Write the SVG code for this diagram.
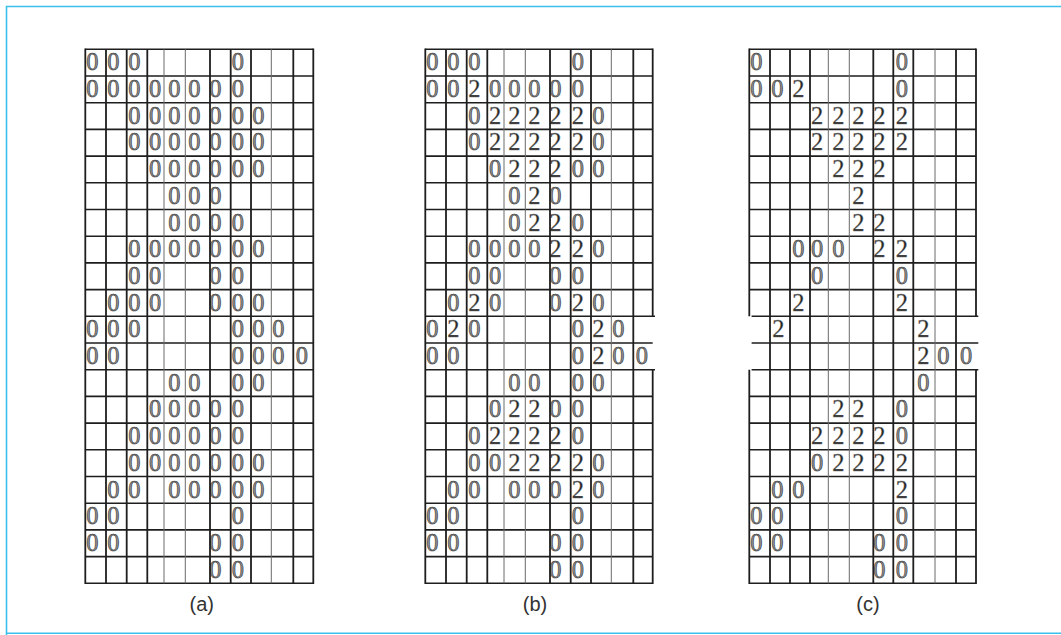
<svg xmlns="http://www.w3.org/2000/svg" width="1061" height="635" viewBox="0 0 1061 635">
<style>
.z{font-family:"Liberation Serif",serif;font-size:24.5px;fill:#909090;stroke:#262626;stroke-width:0.55}
.w{font-family:"Liberation Serif",serif;font-size:24.5px;fill:#262626;stroke:#808080;stroke-width:0.35}
.h{fill:none;stroke:#1e1e1e;stroke-width:1.6}
.k{fill:none;stroke:#1e1e1e;stroke-width:1.8}
.t{fill:none;stroke:#6a6a6a;stroke-width:1}
.lbl{font-family:"Liberation Sans",Arial,sans-serif;font-size:20px;fill:#333;text-anchor:middle}
</style>
<rect x="0" y="0" width="1061" height="635" fill="#fff"/>
<path d="M6.5 640 V6.5 H1070 M6.5 633.3 H1070" fill="none" stroke="#3cbfea" stroke-width="1.6"/>

<g id="grid-a">
<g class="digits">
<text class="z" x="86.3 107.3 128.3 231.7" y="70.3">0000</text>
<text class="z" x="86.3 107.3 128.3 149 168.3 188.3 209.3 231.7" y="97">00000000</text>
<text class="z" x="128.3 149 168.3 188.3 209.3 231.7 252.3" y="123.7">0000000</text>
<text class="z" x="128.3 149 168.3 188.3 209.3 231.7 252.3" y="150.4">0000000</text>
<text class="z" x="149 168.3 188.3 209.3 231.7 252.3" y="177.1">000000</text>
<text class="z" x="168.3 188.3 209.3" y="203.8">000</text>
<text class="z" x="168.3 188.3 209.3 231.7" y="230.5">0000</text>
<text class="z" x="128.3 149 168.3 188.3 209.3 231.7 252.3" y="257.2">0000000</text>
<text class="z" x="128.3 149 209.3 231.7" y="283.9">0000</text>
<text class="z" x="107.3 128.3 149 209.3 231.7 252.3" y="310.6">000000</text>
<text class="z" x="86.3 107.3 128.3 231.7 252.3 272.3" y="337.3">000000</text>
<text class="z" x="86.3 107.3 231.7 252.3 272.3 295.7" y="364">000000</text>
<text class="z" x="168.3 188.3 231.7 252.3" y="390.7">0000</text>
<text class="z" x="149 168.3 188.3 209.3 231.7" y="417.4">00000</text>
<text class="z" x="128.3 149 168.3 188.3 209.3 231.7" y="444.1">000000</text>
<text class="z" x="128.3 149 168.3 188.3 209.3 231.7 252.3" y="470.8">0000000</text>
<text class="z" x="107.3 128.3 168.3 188.3 209.3 231.7 252.3" y="497.5">0000000</text>
<text class="z" x="86.3 107.3 231.7" y="524.2">000</text>
<text class="z" x="86.3 107.3 209.3 231.7" y="550.9">0000</text>
<text class="z" x="209.3 231.7" y="577.6">00</text>
</g>
<path class="h" d="M85.3 49.3H313.3M85.3 76H313.3M85.3 102.7H313.3M85.3 129.4H313.3M85.3 156.1H313.3M85.3 182.8H313.3M85.3 209.5H313.3M85.3 236.2H313.3M85.3 262.9H313.3M85.3 289.6H313.3M85.3 316.3H313.3M85.3 343H313.3M85.3 369.7H313.3M85.3 396.4H313.3M85.3 423.1H313.3M85.3 449.8H313.3M85.3 476.5H313.3M85.3 503.2H313.3M85.3 529.9H313.3M85.3 556.6H313.3M85.3 583.3H313.3"/>
<path class="k" d="M85.3 48.5V584.1M106 49.3V583.3M126.7 49.3V583.3M147.3 49.3V583.3M210 49.3V583.3M230.7 49.3V583.3M251 49.3V583.3M293.3 49.3V583.3M313.3 48.5V584.1"/>
<path class="t" d="M164 49.3V583.3M185.3 49.3V583.3M271.3 49.3V583.3"/>
<text class="lbl" x="201.7" y="611">(a)</text>
</g>

<g id="grid-b">
<g class="digits">
<text class="z" x="426.3 447.3 468.3 571.7" y="70.3">0000</text>
<text class="z" x="426.3 447.3 489 508.3 528.3 549.3 571.7" y="97">0000000</text>
<text class="w" x="468.3" y="97">2</text>
<text class="z" x="468.3 592.3" y="123.7">00</text>
<text class="w" x="489 508.3 528.3 549.3 571.7" y="123.7">22222</text>
<text class="z" x="468.3 592.3" y="150.4">00</text>
<text class="w" x="489 508.3 528.3 549.3 571.7" y="150.4">22222</text>
<text class="z" x="489 571.7 592.3" y="177.1">000</text>
<text class="w" x="508.3 528.3 549.3" y="177.1">222</text>
<text class="z" x="508.3 549.3" y="203.8">00</text>
<text class="w" x="528.3" y="203.8">2</text>
<text class="z" x="508.3 571.7" y="230.5">00</text>
<text class="w" x="528.3 549.3" y="230.5">22</text>
<text class="z" x="468.3 489 508.3 528.3 592.3" y="257.2">00000</text>
<text class="w" x="549.3 571.7" y="257.2">22</text>
<text class="z" x="468.3 489 549.3 571.7" y="283.9">0000</text>
<text class="z" x="447.3 489 549.3 592.3" y="310.6">0000</text>
<text class="w" x="468.3 571.7" y="310.6">22</text>
<text class="z" x="426.3 468.3 571.7 612.3" y="337.3">0000</text>
<text class="w" x="447.3 592.3" y="337.3">22</text>
<text class="z" x="426.3 447.3 571.7 612.3 635.7" y="364">00000</text>
<text class="w" x="592.3" y="364">2</text>
<text class="z" x="508.3 528.3 571.7 592.3" y="390.7">0000</text>
<text class="z" x="489 549.3 571.7" y="417.4">000</text>
<text class="w" x="508.3 528.3" y="417.4">22</text>
<text class="z" x="468.3 571.7" y="444.1">00</text>
<text class="w" x="489 508.3 528.3 549.3" y="444.1">2222</text>
<text class="z" x="468.3 489 592.3" y="470.8">000</text>
<text class="w" x="508.3 528.3 549.3 571.7" y="470.8">2222</text>
<text class="z" x="447.3 468.3 508.3 528.3 549.3 592.3" y="497.5">000000</text>
<text class="w" x="571.7" y="497.5">2</text>
<text class="z" x="426.3 447.3 571.7" y="524.2">000</text>
<text class="z" x="426.3 447.3 549.3 571.7" y="550.9">0000</text>
<text class="z" x="549.3 571.7" y="577.6">00</text>
</g>
<path class="h" d="M425.3 49.3H652.7M425.3 76H652.7M425.3 102.7H652.7M425.3 129.4H652.7M425.3 156.1H652.7M425.3 182.8H652.7M425.3 209.5H652.7M425.3 236.2H652.7M425.3 262.9H652.7M425.3 289.6H652.7M425.3 316.3H655M425.3 343H652.7M425.3 369.7H655M425.3 396.4H652.7M425.3 423.1H652.7M425.3 449.8H652.7M425.3 476.5H652.7M425.3 503.2H652.7M425.3 529.9H652.7M425.3 556.6H652.7M425.3 583.3H652.7"/>
<path class="k" d="M425.3 48.5V584.1M446 49.3V583.3M466.7 49.3V583.3M487.3 49.3V583.3M550 49.3V583.3M570.7 49.3V583.3M591 49.3V583.3M633.3 49.3V583.3M652.7 48.5V316.3M652.7 369.7V584.1"/>
<path class="t" d="M504 49.3V583.3M525.3 49.3V583.3M611.3 49.3V583.3"/>
<text class="lbl" x="535" y="611">(b)</text>
</g>

<g id="grid-c">
<g class="digits">
<text class="z" x="750.3 895.7" y="70.3">00</text>
<text class="z" x="750.3 771.3 895.7" y="97">000</text>
<text class="w" x="792.3" y="97">2</text>
<text class="w" x="811 832.3 852.3 873.3 895.7" y="123.7">22222</text>
<text class="w" x="811 832.3 852.3 873.3 895.7" y="150.4">22222</text>
<text class="w" x="832.3 852.3 873.3" y="177.1">222</text>
<text class="w" x="852.3" y="203.8">2</text>
<text class="w" x="852.3 873.3" y="230.5">22</text>
<text class="z" x="792.3 811 832.3" y="257.2">000</text>
<text class="w" x="873.3 895.7" y="257.2">22</text>
<text class="z" x="811 895.7" y="283.9">00</text>
<text class="w" x="792.3 895.7" y="310.6">22</text>
<text class="w" x="772.3 917.3" y="337.3">22</text>
<text class="w" x="917.3" y="364">2</text>
<text class="z" x="937.3 960" y="364">00</text>
<text class="z" x="917.3" y="390.7">0</text>
<text class="w" x="832.3 852.3" y="417.4">22</text>
<text class="z" x="895.7" y="417.4">0</text>
<text class="w" x="811 832.3 852.3 873.3" y="444.1">2222</text>
<text class="z" x="895.7" y="444.1">0</text>
<text class="z" x="811" y="470.8">0</text>
<text class="w" x="832.3 852.3 873.3 895.7" y="470.8">2222</text>
<text class="z" x="771.3 792.3" y="497.5">00</text>
<text class="w" x="895.7" y="497.5">2</text>
<text class="z" x="750.3 771.3 895.7" y="524.2">000</text>
<text class="z" x="750.3 771.3 873.3 895.7" y="550.9">0000</text>
<text class="z" x="873.3 895.7" y="577.6">00</text>
</g>
<path class="h" d="M749.3 49.3H976M749.3 76H976M749.3 102.7H976M749.3 129.4H976M749.3 156.1H976M749.3 182.8H976M749.3 209.5H976M749.3 236.2H976M749.3 262.9H976M749.3 289.6H976M751.6 316.3H978.3M751.6 343H978.3M751.6 369.7H978.3M749.3 396.4H976M749.3 423.1H976M749.3 449.8H976M749.3 476.5H976M749.3 503.2H976M749.3 529.9H976M749.3 556.6H976M749.3 583.3H976"/>
<path class="k" d="M749.3 48.5V316.3M749.3 369.7V584.1M770 49.3V583.3M790 49.3V583.3M810 49.3V583.3M873.3 49.3V583.3M893.3 49.3V583.3M913.3 49.3V583.3M956 49.3V583.3M976 48.5V316.3M976 369.7V584.1"/>
<path class="t" d="M828.3 49.3V583.3M849.3 49.3V583.3M935 49.3V583.3"/>
<text class="lbl" x="868" y="611">(c)</text>
</g>
</svg>
